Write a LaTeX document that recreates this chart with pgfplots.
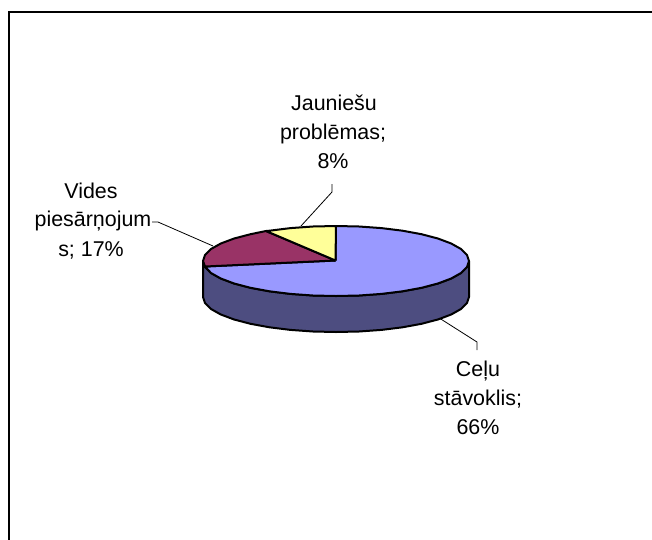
\documentclass[border=0pt]{standalone}
\usepackage{pgfplots}
\pgfplotsset{compat=1.18}
\usepackage{fontspec}
\setmainfont{Liberation Sans}
\definecolor{cblue}{HTML}{9999FF}
\definecolor{cside}{HTML}{4D4D80}
\definecolor{cmaroon}{HTML}{993366}
\definecolor{cyellow}{HTML}{FFFF99}
\newcommand{\lbl}[3]{\node[anchor=base,inner sep=0pt,font=\fontsize{21.5}{25}\selectfont,text=black] at (axis cs:#1,#2) {#3};}
\begin{document}
\begin{tikzpicture}
\useasboundingbox (0,0) rectangle (652bp,540bp);
\begin{axis}[at={(0,0)},anchor=south west,scale only axis,width=652bp,height=540bp,
  xmin=0,xmax=652,ymin=0,ymax=540,y dir=reverse,axis lines=none,clip=false]
% frame
\addplot[black,line width=2.2bp] coordinates {(652,12.2) (8.8,12.2) (8.8,540)};
% side of the pie
\addplot[fill=cside,draw=black,line width=2bp,line join=round] coordinates {
(203,261) (205,267) (211,273) (220.8,278.5) (234.1,283.5) (250.5,287.8) (269.5,291.3) (290.5,293.9) (312.9,295.5) (336,296) (359.1,295.5) (381.5,293.9) (402.5,291.3) (421.5,287.8) (437.9,283.5) (451.2,278.5) (461,273) (467,267) (469,261)
(469,297) (467,303) (461,309) (451.2,314.5) (437.9,319.5) (421.5,323.8) (402.5,327.3) (381.5,329.9) (359.1,331.5) (336,332) (312.9,331.5) (290.5,329.9) (269.5,327.3) (250.5,323.8) (234.1,319.5) (220.8,314.5) (211,309) (205,303) (203,297) (203,261)};
% Celu stavoklis
\addplot[fill=cblue,draw=black,line width=2bp,line join=round] coordinates {
(335.5,260.5) (336,226) (359.1,226.5) (381.5,228.1) (402.5,230.7) (421.5,234.2) (437.9,238.5) (451.2,243.5) (461,249) (467,255) (469,261) (467,267) (461,273) (451.2,278.5) (437.9,283.5) (421.5,287.8) (402.5,291.3) (381.5,293.9) (359.1,295.5) (336,296) (312.9,295.5) (290.5,293.9) (269.5,291.3) (250.5,287.8) (234.1,283.5) (220.8,278.5) (211,273) (205,266.5) (335.5,260.5)};
% Vides piesarnojums
\addplot[fill=cmaroon,draw=black,line width=2bp,line join=round] coordinates {
(335.5,260.5) (205,266.5) (203,261) (205,255) (211,249) (220.8,243.5) (234.1,238.5) (250.5,234.2) (266,231) (335.5,260.5)};
% Jauniesu problemas
\addplot[fill=cyellow,draw=black,line width=2bp,line join=round] coordinates {
(335.5,260.5) (266,231) (269.5,230.7) (290.5,228.1) (312.9,226.5) (336,226) (335.5,260.5)};
% leaders
\addplot[black,line width=0.8bp] coordinates {(440,318.5) (477,342) (477,350)};
\addplot[black,line width=0.8bp] coordinates {(152,222) (158,222) (213,246)};
\addplot[black,line width=0.8bp] coordinates {(332,184) (332,192) (301,226)};
\lbl{334}{110}{Jauniešu}
\lbl{333}{139}{problēmas;}
\lbl{333}{168}{8\%}
\lbl{91}{198}{Vides}
\lbl{93}{226}{piesārņojum}
\lbl{91}{256}{s; 17\%}
\lbl{478}{376}{Ceļu}
\lbl{478}{405}{stāvoklis;}
\lbl{478}{434}{66\%}
\end{axis}
\end{tikzpicture}
\end{document}
